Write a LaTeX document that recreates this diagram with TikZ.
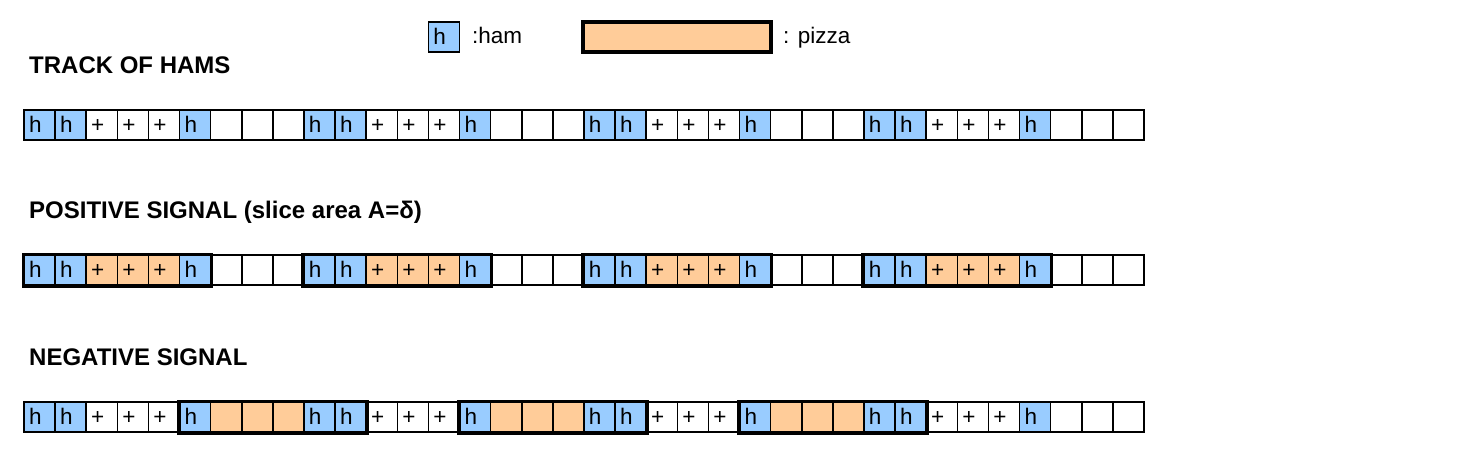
\documentclass[tikz,border=0pt]{standalone}
\usepackage{fontspec}
\setmainfont{Liberation Sans}
\definecolor{hamblue}{HTML}{99CCFF}
\definecolor{pizzaorange}{HTML}{FFCC99}
\begin{document}
\begin{tikzpicture}[x=1pt,y=-1pt,
	cell/.style={draw, line width=1.5pt, minimum height=30pt, inner xsep=5pt, inner ysep=0pt,
		text width=21.11pt, align=left, text height=16pt, text depth=2pt, font=\fontsize{22.5}{22.5}\selectfont},
	celh/.style={cell, fill=hamblue, node contents={h}},
	celp/.style={cell, node contents={+}},
	celq/.style={cell, fill=pizzaorange, node contents={+}},
	celo/.style={cell, fill=pizzaorange, node contents={}},
	cele/.style={cell, node contents={}},
	sliceframe/.style={draw, line width=3.5pt},
	rowtitle/.style={anchor=base west, inner sep=0pt, font=\fontsize{24}{24}\selectfont\bfseries},
	keytext/.style={anchor=base west, inner sep=0pt, font=\fontsize{22.5}{22.5}\selectfont}]
				\useasboundingbox (0,0) rectangle (1480,450);
				% legend
				\node (hamkey) at (444,37) [celh];
				\node[keytext] (hamtext) at (472,43) {:ham};
				\node[draw, line width=3.5pt, fill=pizzaorange, minimum width=188pt, minimum height=30pt] (pizzakey) at (677,37) {};
				\node[keytext] (pizzatext) at (783,43) {: pizza};
				% row titles
				\node[rowtitle] (tracktitle) at (29,73) {TRACK OF HAMS};
				\node[rowtitle] (postitle) at (29,218) {POSITIVE SIGNAL (slice area A=δ)};
				\node[rowtitle] (negtitle) at (29,365) {NEGATIVE SIGNAL};
				% track of hams
				\foreach \t [count=\i from 0] in {h,h,p,p,p,h,e,e,e, h,h,p,p,p,h,e,e,e, h,h,p,p,p,h,e,e,e, h,h,p,p,p,h,e,e,e}
					\node (track\i) at ({24+31.11*(\i+0.5)},125) [cel\t];
				% positive signal
				\foreach \t [count=\i from 0] in {h,h,q,q,q,h,e,e,e, h,h,q,q,q,h,e,e,e, h,h,q,q,q,h,e,e,e, h,h,q,q,q,h,e,e,e}
					\node (pos\i) at ({24+31.11*(\i+0.5)},270) [cel\t];
				\foreach \a/\b in {0/5,9/14,18/23,27/32}
					\draw[sliceframe] (pos\a.north west) rectangle (pos\b.south east);
				% negative signal
				\foreach \t [count=\i from 0] in {h,h,p,p,p,h,o,o,o, h,h,p,p,p,h,o,o,o, h,h,p,p,p,h,o,o,o, h,h,p,p,p,h,e,e,e}
					\node (neg\i) at ({24+31.11*(\i+0.5)},417) [cel\t];
				\foreach \a/\b in {5/10,14/19,23/28}
					\draw[sliceframe] (neg\a.north west) rectangle (neg\b.south east);
\end{tikzpicture}
\end{document}
